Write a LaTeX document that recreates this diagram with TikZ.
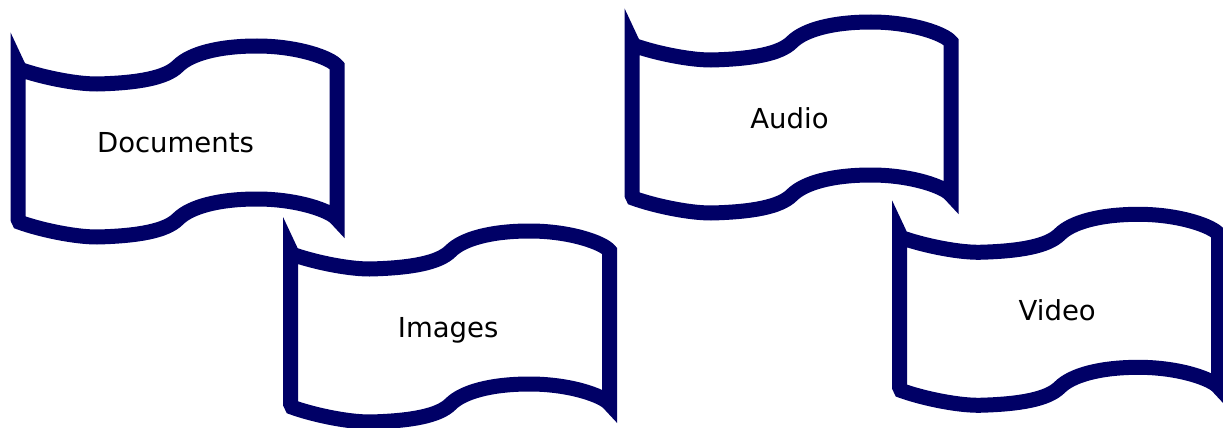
\documentclass[tikz,border=0pt]{standalone}
\usepackage{fontspec}
\setmainfont{DejaVu Sans}
\definecolor{flagnavy}{HTML}{000066}
\tikzset{
  flagline/.style={draw=flagnavy, line width=15pt, fill=white, line join=miter, miter limit=10},
  flagtext/.style={font=\fontsize{27.5}{30}\selectfont, text=black, anchor=base, inner sep=0pt}
}
\newcommand{\wavyflag}[4]{%
  \begin{scope}[shift={(#1,#2)}]
    \draw[flagline] (0,0) -- (1.5,3.2)
      .. controls (20,10) and (55,18) .. (79,18)
      .. controls (120,17) and (148,12) .. (160,0)
      .. controls (172,-12) and (200,-20) .. (239,-20)
      .. controls (280,-20) and (313,-8) .. (319,0)
      -- (319,153)
      .. controls (313,145) and (280,133) .. (239,133)
      .. controls (200,133) and (172,141) .. (160,153)
      .. controls (148,165) and (120,170) .. (79,171)
      .. controls (55,171) and (20,163) .. (1.5,156.2)
      -- (0,153) -- cycle;
    \node[flagtext] (#3) at (157.5,86.2) {#4};
  \end{scope}%
}
\begin{document}
\begin{tikzpicture}[x=1pt, y=-1pt]
  \useasboundingbox (0,0) rectangle (1223,428);
  \wavyflag{18}{66}{documents}{Documents}
  \wavyflag{290.7}{251}{images}{Images}
  \wavyflag{632}{42}{audio}{Audio}
  \wavyflag{899.7}{234.3}{video}{Video}
\end{tikzpicture}
\end{document}
